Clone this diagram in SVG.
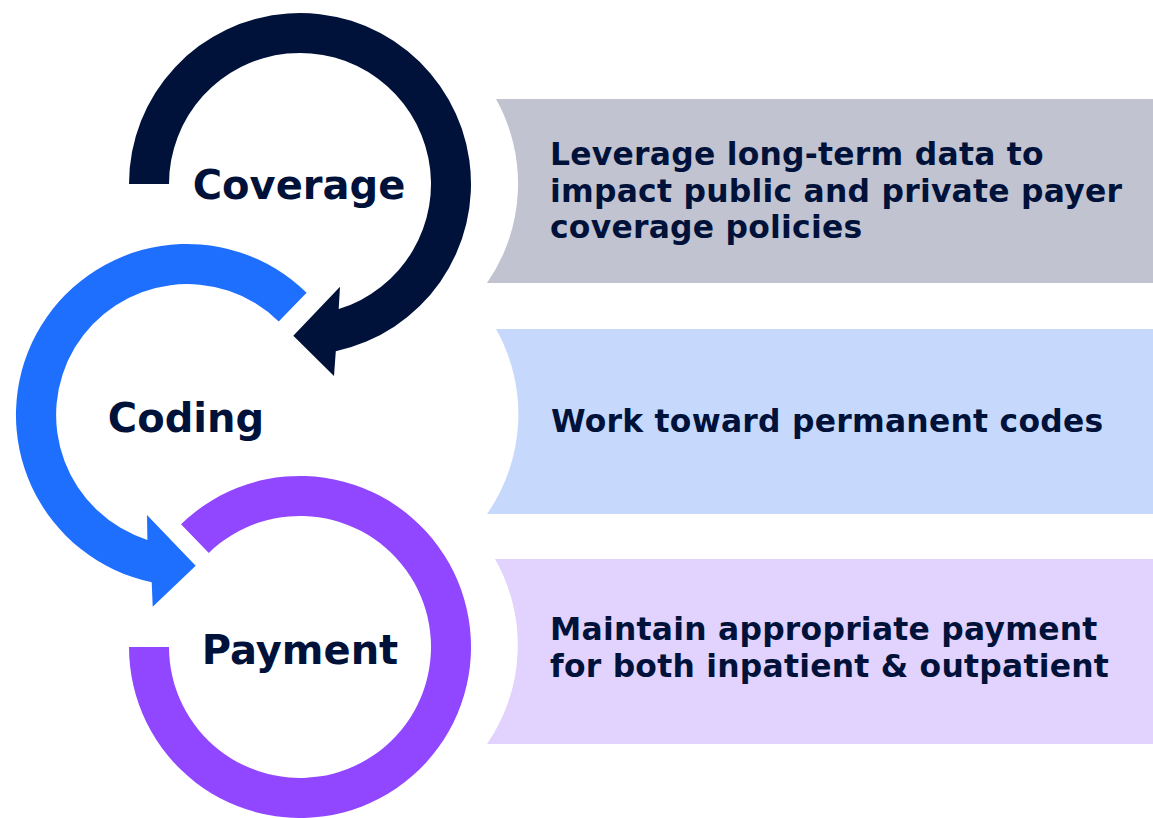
<svg xmlns="http://www.w3.org/2000/svg" width="1153" height="818" viewBox="0 0 1153 818">
<style>
.lbl{font-family:"DejaVu Sans","Verdana",sans-serif;font-weight:bold;font-size:40px;fill:#00113A;text-anchor:middle}
.desc{font-family:"DejaVu Sans","Verdana",sans-serif;font-weight:bold;font-size:31.4px;letter-spacing:0.25px;fill:#00113A}
</style>
<rect width="1153" height="818" fill="#FFFFFF"/>
<g id="boxes">
<g id="box-coverage"><path d="M496 99 L1153 99 L1153 283 L487 283 A174 174 0 0 0 496 99 Z" fill="#C1C3D0"/>
<text class="desc" x="550" y="165">Leverage long-term data to</text>
<text class="desc" x="550" y="201.5">impact public and private payer</text>
<text class="desc" x="550" y="237.5">coverage policies</text></g>
<g id="box-coding"><path d="M496 329 L1153 329 L1153 514 L487 514 A174 174 0 0 0 496 329 Z" fill="#C6D9FD"/>
<text class="desc" x="551" y="432">Work toward permanent codes</text></g>
<g id="box-payment"><path d="M495 559 L1153 559 L1153 744 L487 744 A174 174 0 0 0 495 559 Z" fill="#E1D3FD"/>
<text class="desc" x="550" y="640">Maintain appropriate payment</text>
<text class="desc" x="550" y="676.5">for both inpatient &amp; outpatient</text></g>
</g>
<g id="connectors">
<path id="arrow-coverage" d="M129 184 A171 171 0 1 1 335.8 351.2 L334 376 L293.3 335.7 L340 286.7 L338.7 309.1 A131 131 0 1 0 169 184 Z" fill="#00113A"/>
<path id="arrow-coding" d="M306.6 292.8 A171 171 0 1 0 151.7 582.3 L152.7 606.7 L195.7 565.7 L147 515 L147.4 539.9 A131 131 0 1 1 278.7 321.4 Z" fill="#1F6FFF"/>
<path id="ring-payment" d="M129 647 A171 171 0 1 0 181 524.2 L208.8 552.9 A131 131 0 1 1 169 647 Z" fill="#9146FF"/>
</g>
<g id="node-coverage"><text class="lbl" x="299" y="199">Coverage</text></g>
<g id="node-coding"><text class="lbl" x="186" y="432">Coding</text></g>
<g id="node-payment"><text class="lbl" x="300" y="664">Payment</text></g>
</svg>
